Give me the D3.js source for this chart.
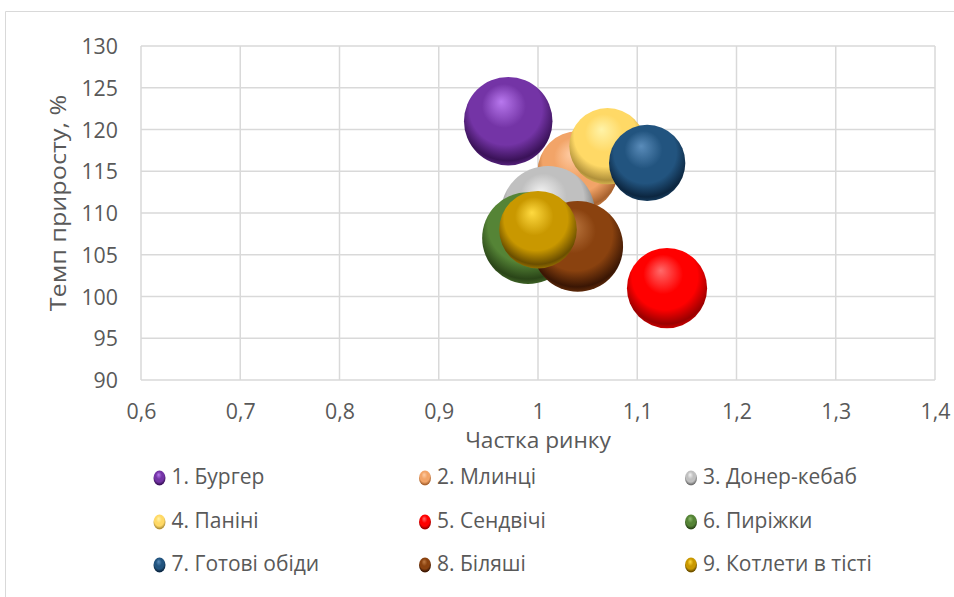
<!DOCTYPE html>
<html>
<head>
<meta charset="utf-8">
<script src="https://cdn.jsdelivr.net/npm/d3@7"></script>
<style>
  body { margin: 0; background: #fff; }
  text { font-family: "Open Sans", "Noto Sans", sans-serif; fill: #595959; }
</style>
</head>
<body>
<div class="chart"></div>
<script>
// Data
var names = ["1. Бургер", "2. Млинці", "3. Донер-кебаб", "4. Паніні", "5. Сендвічі",
             "6. Пиріжки", "7. Готові обіди", "8. Біляші", "9. Котлети в тісті"];
var shares = [0.97, 1.04, 1.01, 1.07, 1.13, 0.99, 1.11, 1.04, 1.00];
var growth = [121, 115, 110, 118, 101, 107, 116, 106, 108];
var sizes = [19.5, 16, 22, 14.5, 16, 21, 14.5, 20.5, 15];
var xTicks = [0.6, 0.7, 0.8, 0.9, 1.0, 1.1, 1.2, 1.3, 1.4];
var yTicks = [90, 95, 100, 105, 110, 115, 120, 125, 130];

// light / base / dark shades for each bubble
var colors = [
  ["#B878EE", "#7434A6", "#3A1258"],
  ["#FFCCA4", "#F2A468", "#A8622E"],
  ["#F2F2F2", "#C0C0C0", "#6F6F6F"],
  ["#FFF3A8", "#FFD966", "#B0903A"],
  ["#FF6A6A", "#FF0000", "#9A0000"],
  ["#8DBA6C", "#558436", "#2A4518"],
  ["#5A8CBA", "#22547F", "#0C2640"],
  ["#BE7A42", "#8A420F", "#3A1604"],
  ["#FFDA40", "#C99800", "#6A4E00"]
];

// Step 1: Set up chart
var svgWidth = 954;
var svgHeight = 597;
var margin = { top: 46, right: 19, bottom: 217, left: 141 };
var width = svgWidth - margin.left - margin.right;
var height = svgHeight - margin.top - margin.bottom;

var svg = d3.select(".chart")
  .append("svg")
  .attr("width", svgWidth)
  .attr("height", svgHeight);

// outer frame
svg.append("path")
  .attr("d", "M5.5," + svgHeight + " V11.5 H" + svgWidth)
  .attr("fill", "none")
  .attr("stroke", "#D9D9D9")
  .attr("stroke-width", 1);

var defs = svg.append("defs");
colors.forEach(function(c, i) {
  var g = defs.append("radialGradient")
    .attr("id", "ball" + i)
    .attr("cx", "50%").attr("cy", "40%").attr("r", "62%")
    .attr("fx", "42%").attr("fy", "28%");
  g.append("stop").attr("offset", "0%").attr("stop-color", c[0]);
  g.append("stop").attr("offset", "40%").attr("stop-color", c[1]);
  g.append("stop").attr("offset", "66%").attr("stop-color", c[1]);
  g.append("stop").attr("offset", "90%").attr("stop-color", c[2]);
  g.append("stop").attr("offset", "100%").attr("stop-color", d3.interpolateRgb(c[2], c[1])(0.6));
});

var chartGroup = svg.append("g")
  .attr("transform", `translate(${margin.left}, ${margin.top})`);

// Create scales
var xLinearScale = d3.scaleLinear().domain([0.6, 1.4]).range([0, width]);
var yLinearScale = d3.scaleLinear().domain([90, 130]).range([height, 0]);
var rScale = d3.scaleSqrt().domain([0, 22]).range([0, 47]);

// gridlines
chartGroup.append("g")
  .selectAll("line")
  .data(yTicks)
  .enter()
  .append("line")
  .attr("x1", 0).attr("x2", width)
  .attr("y1", d => yLinearScale(d)).attr("y2", d => yLinearScale(d))
  .attr("stroke", "#D9D9D9").attr("stroke-width", 1.5);

chartGroup.append("g")
  .selectAll("line")
  .data(xTicks)
  .enter()
  .append("line")
  .attr("y1", 0).attr("y2", height)
  .attr("x1", d => xLinearScale(d)).attr("x2", d => xLinearScale(d))
  .attr("stroke", "#D9D9D9").attr("stroke-width", 1.5);

// axes (labels only, lines hidden)
var bottomAxis = d3.axisBottom(xLinearScale)
  .tickValues(xTicks)
  .tickSize(0)
  .tickPadding(0)
  .tickFormat(d => String(+d.toFixed(1)).replace(".", ","));
var leftAxis = d3.axisLeft(yLinearScale)
  .tickValues(yTicks)
  .tickSize(0)
  .tickPadding(0);

var xAxis = chartGroup.append("g")
  .attr("transform", `translate(0, ${height})`)
  .call(bottomAxis);
xAxis.select(".domain").remove();
xAxis.attr("font-family", null).attr("font-size", null);
xAxis.selectAll("text")
  .attr("font-size", 22)
  .attr("fill", "#595959")
  .attr("y", 0)
  .attr("dy", 0)
  .attr("transform", "translate(0, 39) scale(0.97, 1)");

var yAxis = chartGroup.append("g")
  .call(leftAxis);
yAxis.select(".domain").remove();
yAxis.attr("font-family", null).attr("font-size", null);
yAxis.selectAll("text")
  .attr("font-size", 22)
  .attr("fill", "#595959")
  .attr("x", 0)
  .attr("dy", "0.35em")
  .attr("transform", "translate(-23, 0) scale(0.97, 1)");

// bubbles
chartGroup.append("g")
  .selectAll("circle")
  .data(names)
  .enter()
  .append("circle")
  .attr("cx", (d, i) => xLinearScale(shares[i]))
  .attr("cy", (d, i) => yLinearScale(growth[i]))
  .attr("r", (d, i) => rScale(sizes[i]))
  .attr("fill", (d, i) => "url(#ball" + i + ")");

// axis titles
svg.append("text")
  .attr("transform", `translate(${margin.left + width / 2}, 448) scale(1.08, 1)`)
  .attr("text-anchor", "middle")
  .attr("font-size", 21)
  .text("Частка ринку");

svg.append("text")
  .attr("transform", "translate(66, 203) rotate(-90) scale(1.2, 1)")
  .attr("text-anchor", "middle")
  .attr("font-size", 21)
  .text("Темп приросту, %");

// legend
var colX = [159.5, 425, 691];
var rowY = [477, 521, 564];
var legend = svg.append("g")
  .selectAll("g")
  .data(names)
  .enter()
  .append("g")
  .attr("transform", (d, i) => `translate(${colX[i % 3]}, ${rowY[Math.floor(i / 3)]})`);

legend.append("ellipse")
  .attr("cy", 1)
  .attr("rx", 6)
  .attr("ry", 7.5)
  .attr("fill", (d, i) => "url(#ball" + i + ")");

legend.append("text")
  .attr("x", 12)
  .attr("dy", "0.35em")
  .attr("font-size", 21)
  .text(d => d);
</script>
</body>
</html>
